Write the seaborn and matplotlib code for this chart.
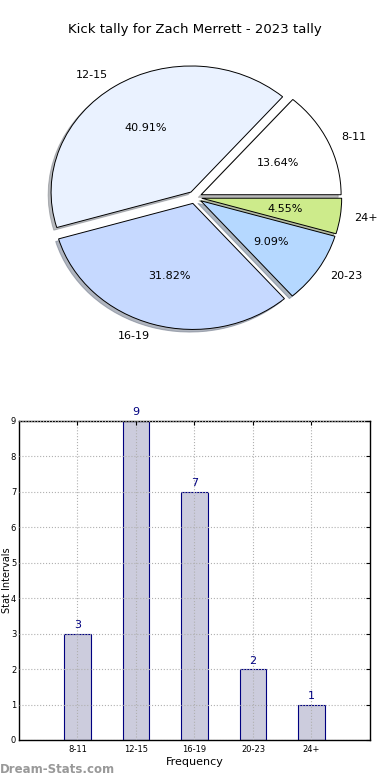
import matplotlib
matplotlib.use("Agg")
import matplotlib.pyplot as plt
import seaborn as sns

# data
categories = ["8-11", "12-15", "16-19", "20-23", "24+"]
counts = [3, 9, 7, 2, 1]
pie_colors = ["#ffffff", "#eaf2ff", "#c6d9ff", "#b5d8ff", "#cdeb8b"]
y_ticks = list(range(0, 10))

sns.set_style("white", {
    "xtick.direction": "in", "ytick.direction": "in",
    "axes.edgecolor": "black", "text.color": "black",
    "axes.labelcolor": "black", "xtick.color": "black", "ytick.color": "black",
})
plt.rcParams["font.family"] = ["DejaVu Sans"]

fig = plt.figure(figsize=(3.9, 7.8), dpi=100)

# pie
ax1 = fig.add_axes([0.051, 0.545, 0.897, 0.404])
ax1.pie(counts, labels=categories, colors=pie_colors, explode=[0.05] * len(counts),
        autopct="%.2f%%", shadow={"ox": -0.015, "oy": -0.015, "shade": 0.5},
        startangle=0,
        wedgeprops={"edgecolor": "black", "linewidth": 0.7},
        textprops={"fontsize": 8, "color": "black"})
ax1.set_aspect("auto")
ax1.set_xlim(-1.25, 1.25)
ax1.set_ylim(-1.25, 1.25)
fig.text(0.5, 0.962, "Kick tally for Zach Merrett - 2023 tally", ha="center", va="center",
         fontsize=9.5, color="black")

# bars
ax2 = fig.add_axes([0.0487, 0.0513, 0.9, 0.409])
sns.barplot(x=categories, y=counts, width=0.45, color="#ccccdd", saturation=1,
            edgecolor="navy", linewidth=0.8, ax=ax2)
ax2.set_xlim(-1, 5)
ax2.set_ylim(0, 9)
ax2.set_yticks(y_ticks)
ax2.tick_params(labelsize=6, direction="in", top=True, right=True, length=3, colors="black")
ax2.tick_params(axis="y", pad=2)
ax2.grid(True, linestyle=":", color="#b0b0b0", linewidth=0.8)
ax2.set_axisbelow(False)
for i, v in enumerate(counts):
    ax2.text(i, v + 0.1, str(v), ha="center", va="bottom", color="navy", fontsize=8)
for s in ax2.spines.values():
    s.set_linewidth(1)
ax2.set_xlabel("Frequency", fontsize=8, labelpad=2)
ax2.set_ylabel("Stat Intervals", fontsize=7)
ax2.yaxis.set_label_coords(-0.021, 0.5)
fig.text(0.0, 0.013, "Dream-Stats.com", color="#999999", fontsize=8.5, fontweight="bold",
         ha="left", va="center")

fig.savefig("out.png", dpi=100)
